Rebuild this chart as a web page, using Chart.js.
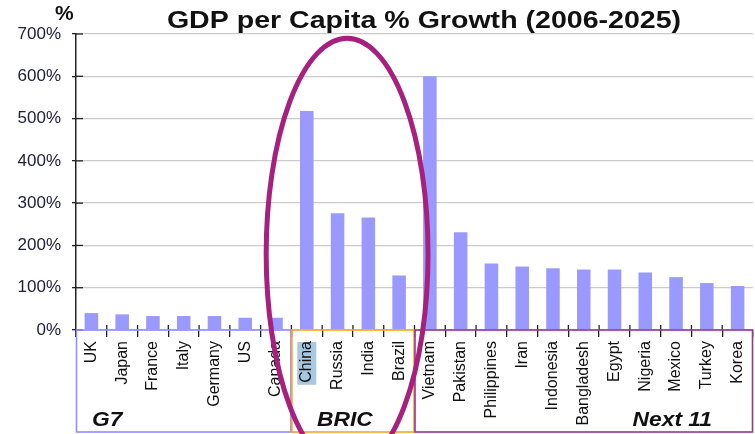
<!DOCTYPE html>
<html>
<head>
<meta charset="utf-8">
<script src="https://cdn.jsdelivr.net/npm/chart.js@4"></script>
<style>
  html, body { margin: 0; padding: 0; background: #fff; }
  #wrap { width: 755px; height: 434px; }
</style>
</head>
<body>
<div id="wrap"><canvas id="gdpChart"></canvas></div>
<script>
var countries = ['UK','Japan','France','Italy','Germany','US','Canada','China','Russia','India','Brazil',
  'Vietnam','Pakistan','Philippines','Iran','Indonesia','Bangladesh','Egypt','Nigeria','Mexico','Turkey','Korea'];
var growth = [40, 37, 33, 33, 33, 29, 29, 518, 276, 266, 129, 600, 231, 157, 150, 146, 143, 143, 136, 125, 111, 104];
var yTicks = [0, 100, 200, 300, 400, 500, 600, 700];

var groupNames = ['G7', 'BRIC', 'Next 11'];
var groupFirst = [0, 7, 11];
var groupLast = [6, 10, 21];
var groupColors = ['#8f8fff', '#ffa51f', '#9b3396'];

var chartTitle = 'GDP per Capita % Growth (2006-2025)';
var highlighted = 'China';

// circle round the BRIC bars (centre in category / value units)
var ringCentre = [8.31, 180];
var ringRadius = [2.63, 510];

function stretchText(ctx, text, x, y, font, sx, align) {
  ctx.save();
  ctx.font = font;
  ctx.textBaseline = 'alphabetic';
  var w = ctx.measureText(text).width * sx;
  var left = align === 'center' ? x - w / 2 : (align === 'right' ? x - w : x);
  ctx.translate(left, y);
  ctx.scale(sx, 1);
  ctx.textAlign = 'left';
  ctx.fillText(text, 0, 0);
  ctx.restore();
}

var extras = {
  id: 'extras',
  beforeDraw: function (chart) {
    var ctx = chart.ctx, x = chart.scales.x;
    var i = countries.indexOf(highlighted);
    ctx.save();
    ctx.font = '16px "Liberation Sans", Arial, sans-serif';
    var len = ctx.measureText(highlighted).width;
    var cx = x.getPixelForValue(i);
    var top = chart.chartArea.bottom + 12;
    ctx.fillStyle = '#a8c8e2';
    ctx.fillRect(cx - 9.5, top, 19, len + 1);
    ctx.restore();
  },
  afterDraw: function (chart) {
    var ctx = chart.ctx, x = chart.scales.x, y = chart.scales.y, area = chart.chartArea;
    var half = (x.getPixelForValue(1) - x.getPixelForValue(0)) / 2;

    // inner parts of the tick marks
    ctx.save();
    ctx.strokeStyle = '#222';
    ctx.lineWidth = 1.3;
    yTicks.forEach(function (v) {
      var py = y.getPixelForValue(v);
      ctx.beginPath(); ctx.moveTo(area.left, py); ctx.lineTo(area.left + 7, py); ctx.stroke();
    });
    for (var k = 1; k < countries.length; k++) {
      var px = x.getPixelForValue(k) - half;
      ctx.beginPath(); ctx.moveTo(px, area.bottom - 5); ctx.lineTo(px, area.bottom); ctx.stroke();
    }
    ctx.restore();

    // group boxes
    var boxBottom = chart.height - 2;
    groupNames.forEach(function (name, g) {
      var l = x.getPixelForValue(groupFirst[g]) - half;
      var r = x.getPixelForValue(groupLast[g]) + half;
      ctx.save();
      ctx.strokeStyle = groupColors[g];
      ctx.lineWidth = 1.6;
      ctx.strokeRect(l + 0.5, area.bottom, r - l - 1, boxBottom - area.bottom);
      ctx.fillStyle = '#111';
      var font = 'italic bold 20px "Liberation Sans", Arial, sans-serif';
      if (g === 0) stretchText(ctx, name, l + 16, chart.height - 8, font, 1.14, 'left');
      else if (g === 1) stretchText(ctx, name, (l + r) / 2 - 8, chart.height - 8, font, 1.14, 'center');
      else stretchText(ctx, name, r - 41, chart.height - 8, font, 1.14, 'right');
      ctx.restore();
    });

    // ring
    var rcx = x.getPixelForValue(ringCentre[0]);
    var rcy = y.getPixelForValue(ringCentre[1]);
    var rrx = x.getPixelForValue(ringCentre[0] + ringRadius[0]) - rcx;
    var rry = rcy - y.getPixelForValue(ringCentre[1] + ringRadius[1]);
    ctx.save();
    ctx.strokeStyle = '#a6207f';
    ctx.lineWidth = 5;
    ctx.beginPath();
    ctx.ellipse(rcx, rcy, rrx, rry, 0, 0, Math.PI * 2);
    ctx.stroke();
    ctx.restore();

    // titles
    ctx.save();
    ctx.fillStyle = '#111';
    stretchText(ctx, chartTitle, 424, 28, 'bold 24px "Liberation Sans", Arial, sans-serif', 1.19, 'center');
    stretchText(ctx, '%', 55, 20, 'bold 20px "Liberation Sans", Arial, sans-serif', 1.05, 'left');
    ctx.restore();
  }
};

new Chart(document.getElementById('gdpChart'), {
  type: 'bar',
  data: {
    labels: countries,
    datasets: [{
      data: growth,
      backgroundColor: '#9999ff',
      borderWidth: 0,
      barPercentage: 0.44,
      categoryPercentage: 1
    }]
  },
  options: {
    responsive: true,
    maintainAspectRatio: false,
    animation: false,
    layout: { padding: { top: 34, right: 2, left: 0, bottom: 0 } },
    plugins: {
      legend: { display: false },
      tooltip: { enabled: false }
    },
    scales: {
      x: {
        afterFit: function (scale) { scale.height = 104; scale.paddingRight = 0; scale.paddingLeft = 0; },
        border: { display: false },
        grid: { drawOnChartArea: false, drawTicks: true, tickLength: 7, color: '#222', lineWidth: 1.3, offset: true },
        ticks: {
          autoSkip: false,
          minRotation: 90,
          maxRotation: 90,
          padding: 4,
          color: '#111',
          font: { family: '"Liberation Sans", Arial, sans-serif', size: 16 }
        }
      },
      y: {
        min: 0,
        max: 700,
        afterFit: function (scale) { scale.width = 76; },
        afterBuildTicks: function (scale) { scale.ticks = yTicks.map(function (v) { return { value: v }; }); },
        border: { display: true, color: '#222', width: 1.5 },
        grid: { color: '#cccccc', lineWidth: 1.3, tickLength: 4, tickColor: '#222' },
        ticks: {
          padding: 11,
          color: '#202040',
          font: { family: '"Liberation Sans", Arial, sans-serif', size: 17 },
          callback: function (v) { return v + '%'; }
        }
      }
    }
  },
  plugins: [extras]
});
</script>
</body>
</html>
